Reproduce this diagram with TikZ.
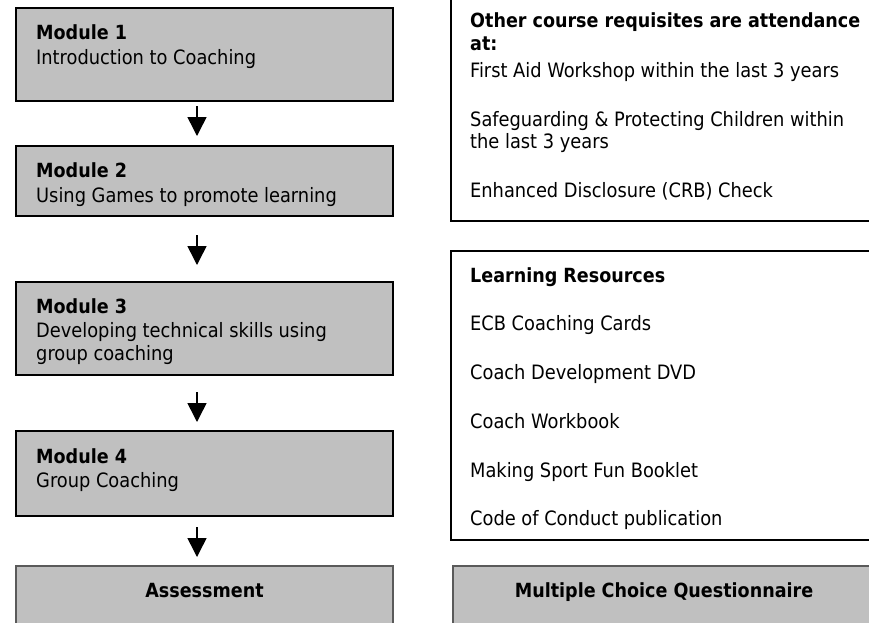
\documentclass[tikz,border=0pt]{standalone}
\usepackage{fontspec}
\setmainfont{DejaVu Sans Condensed}
\usetikzlibrary{arrows.meta}
\definecolor{boxgray}{HTML}{C0C0C0}
\definecolor{edgegray}{HTML}{5A5A5A}
\tikzset{
  modbox/.style={draw=black, line width=1.6pt, fill=boxgray, rectangle, outer sep=0pt, inner sep=0pt, minimum width=377pt},
  endbox/.style={draw=edgegray, line width=1.1pt, fill=boxgray, rectangle, outer sep=0pt, inner sep=0pt},
  infobox/.style={draw=black, line width=1.6pt, fill=white, rectangle, outer sep=0pt, inner sep=0pt},
  txt/.style={anchor=base west, inner sep=0pt, font=\fontsize{19.8pt}{23pt}\selectfont},
  btxt/.style={txt, font=\fontsize{19.5pt}{23pt}\selectfont\bfseries},
  ctxt/.style={anchor=base, inner sep=0pt, font=\fontsize{19.5pt}{23pt}\selectfont\bfseries},
  flow/.style={line width=1.5pt, -{Triangle[length=19pt,width=19pt]}}
}
\begin{document}
\begin{tikzpicture}[x=1pt,y=-1pt]
\path[use as bounding box] (0,0) rectangle (869,622);
\clip (0,0) rectangle (869,622);
% left column boxes
\node[modbox, minimum height=93pt] (m1) at (204.5,54.5) {};
\node[modbox, minimum height=70pt] (m2) at (204.5,181) {};
\node[modbox, minimum height=93pt] (m3) at (204.5,328.5) {};
\node[modbox, minimum height=85pt] (m4) at (204.5,473.5) {};
\node[endbox, minimum width=377pt, minimum height=74pt] (as) at (204.5,603) {};
% right column boxes
\node[infobox, minimum width=434pt, minimum height=231pt] (r1) at (668,105.5) {};
\node[infobox, minimum width=434pt, minimum height=289pt] (r2) at (668,395.5) {};
\node[endbox, minimum width=422pt, minimum height=74pt] (mcq) at (664,603) {};
% module texts
\node[btxt] (t1a) at (36,39) {Module 1};
\node[txt] (t1b) at (36,64) {Introduction to Coaching};
\node[btxt] (t2a) at (36,177) {Module 2};
\node[txt] (t2b) at (36,202) {Using Games to promote learning};
\node[btxt] (t3a) at (36,313) {Module 3};
\node[txt] (t3b) at (36,337) {Developing technical skills using};
\node[txt] (t3c) at (36,360) {group coaching};
\node[btxt] (t4a) at (36,463) {Module 4};
\node[txt] (t4b) at (36,487) {Group Coaching};
\node[ctxt] (tas) at (204.5,597) {Assessment};
% requisites
\node[btxt] (r1a) at (470,27.7) {Other course requisites are attendance};
\node[btxt] (r1b) at (470,50) {at:};
\node[txt] (r1c) at (470,77) {First Aid Workshop within the last 3 years};
\node[txt] (r1d) at (470,126) {Safeguarding \& Protecting Children within};
\node[txt] (r1e) at (470,148) {the last 3 years};
\node[txt] (r1f) at (470,197) {Enhanced Disclosure (CRB) Check};
% resources
\node[btxt] (r2a) at (470,282) {Learning Resources};
\node[txt] (r2b) at (470,330) {ECB Coaching Cards};
\node[txt] (r2c) at (470,379) {Coach Development DVD};
\node[txt] (r2d) at (470,428) {Coach Workbook};
\node[txt] (r2e) at (470,477) {Making Sport Fun Booklet};
\node[txt] (r2f) at (470,525) {Code of Conduct publication};
\node[ctxt] (tmcq) at (664,597) {Multiple Choice Questionnaire};
% arrows
\coordinate (ax) at (197,0);
\draw[flow, shorten <=5pt, shorten >=10pt] (m1.south -| ax) -- (m2.north -| ax);
\draw[flow, shorten <=19pt, shorten >=17pt] (m2.south -| ax) -- (m3.north -| ax);
\draw[flow, shorten <=17pt, shorten >=9pt] (m3.south -| ax) -- (m4.north -| ax);
\draw[flow, shorten <=11pt, shorten >=9pt] (m4.south -| ax) -- (as.north -| ax);
\end{tikzpicture}
\end{document}
